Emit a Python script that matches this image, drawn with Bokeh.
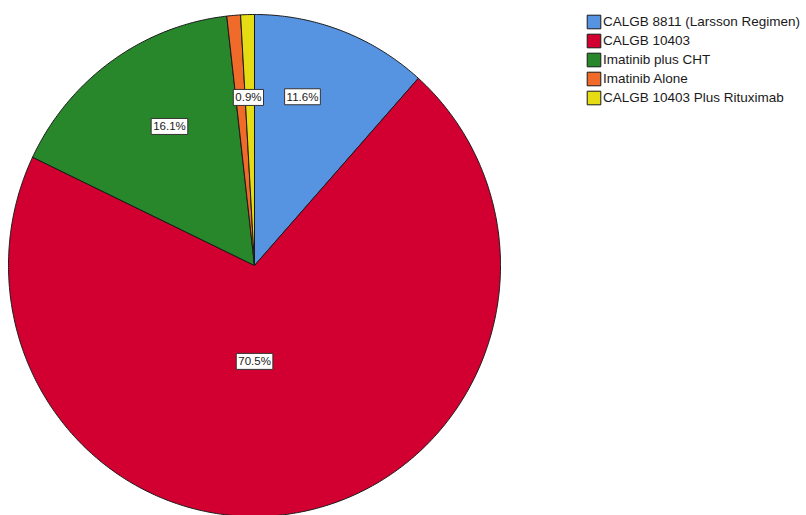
import numpy as np
from bokeh.plotting import figure
from bokeh.models import Range1d, Legend, LegendItem, ColumnDataSource
from bokeh.core.properties import value
from bokeh.embed import file_html
from bokeh.resources import INLINE

# ---- data ----
categories = ["CALGB 8811 (Larsson Regimen)", "CALGB 10403", "Imatinib plus CHT",
              "Imatinib Alone", "CALGB 10403 Plus Rituximab"]
percents = [11.6, 70.5, 16.1, 0.9, 0.9]
label_texts = ["11.6%", "70.5%", "16.1%", "0.9%", "0.9%"]
show_label = [True, True, True, False, True]

# ---- style ----
colors = ["#5694E2", "#D20030", "#28872A", "#F06A2A", "#E6DC14"]
W, H = 806, 515
cx, cy = 254, H - 265          # pie centre (data units == pixels)
rx, ry = 246, 251              # slightly elliptical pie, as in the reference
label_frac = [0.70, 0.382, 0.653, 0.67, 0.67]
label_nudge_deg = [-4.7, 11.3, 3.5, -0.5, -0.5]

p = figure(width=W, height=H, output_backend="svg", toolbar_location=None,
           x_range=Range1d(0, W), y_range=Range1d(0, H), min_border=0)
p.axis.visible = False
p.grid.visible = False
p.outline_line_color = None
p.background_fill_color = "white"
p.border_fill_color = "white"

fr = np.array(percents) / np.sum(percents)
ends = np.cumsum(fr)
starts = ends - fr

renderers = []
for i, (s, e) in enumerate(zip(starts, ends)):
    n = max(3, int(np.ceil((e - s) * 720)))
    t = np.linspace(s, e, n) * 2 * np.pi          # clockwise from 12 o'clock
    xs = np.concatenate([[cx], cx + rx * np.sin(t), [cx]])
    ys = np.concatenate([[cy], cy + ry * np.cos(t), [cy]])
    r = p.patch(xs, ys, fill_color=colors[i], line_color="#1a1a1a", line_width=1)
    renderers.append(r)

# labels
lx, ly, lt = [], [], []
for i in range(len(percents)):
    if not show_label[i]:
        continue
    mid = (starts[i] + ends[i]) / 2 * 2 * np.pi + np.deg2rad(label_nudge_deg[i])
    lx.append(cx + label_frac[i] * rx * np.sin(mid))
    ly.append(cy + label_frac[i] * ry * np.cos(mid))
    lt.append(label_texts[i])
src = ColumnDataSource(dict(x=lx, y=ly, t=lt))
p.text(x="x", y="y", text="t", source=src, text_align="center", text_baseline="middle",
       text_font=value("Liberation Sans"), text_font_size="11.5px", text_color="#1a1a1a",
       background_fill_color="white", border_line_color="#333333", border_line_width=1,
       padding=2)

items = [LegendItem(label=c, renderers=[r]) for c, r in zip(categories, renderers)]
legend = Legend(items=items, location=(585, 409), padding=0, margin=0,
                glyph_width=17, glyph_height=17, label_height=17, spacing=2,
                label_standoff=1, label_text_font="Liberation Sans",
                label_text_font_size="13.5px", label_text_color="#1a1a1a",
                border_line_color=None, background_fill_alpha=0)
p.add_layout(legend)

open("out.html", "w").write(file_html(p, INLINE))
